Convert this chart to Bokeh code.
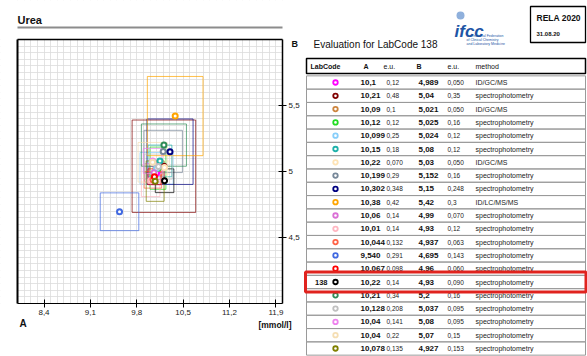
from bokeh.plotting import figure
from bokeh.layouts import row
from bokeh.models import (Range1d, FixedTicker, SingleIntervalTicker, ColumnDataSource,
                          LinearAxis, Label, BoxAnnotation)
from bokeh.core.properties import value
from bokeh.embed import file_html
from bokeh.resources import INLINE

# ---------------- data ----------------
lab_codes = ["", "", "", "", "", "", "", "", "", "", "", "", "", "", "", "138", "", "", "", "", ""]
a_vals = [10.1, 10.21, 10.09, 10.12, 10.099, 10.15, 10.22, 10.199, 10.302, 10.38, 10.06,
          10.01, 10.044, 9.540, 10.067, 10.22, 10.21, 10.128, 10.04, 10.04, 10.078]
a_labels = ["10,1", "10,21", "10,09", "10,12", "10,099", "10,15", "10,22", "10,199", "10,302", "10,38", "10,06",
            "10,01", "10,044", "9,540", "10,067", "10,22", "10,21", "10,128", "10,04", "10,04", "10,078"]
a_eu = [0.12, 0.48, 0.1, 0.12, 0.25, 0.18, 0.070, 0.29, 0.348, 0.42, 0.14,
        0.14, 0.132, 0.291, 0.098, 0.14, 0.34, 0.208, 0.141, 0.22, 0.135]
a_eu_labels = ["0,12", "0,48", "0,1", "0,12", "0,25", "0,18", "0,070", "0,29", "0,348", "0,42", "0,14",
               "0,14", "0,132", "0,291", "0,098", "0,14", "0,34", "0,208", "0,141", "0,22", "0,135"]
b_vals = [4.989, 5.04, 5.021, 5.025, 5.024, 5.08, 5.03, 5.152, 5.15, 5.42, 4.99,
          4.93, 4.937, 4.695, 4.96, 4.93, 5.2, 5.037, 5.08, 5.07, 4.927]
b_labels = ["4,989", "5,04", "5,021", "5,025", "5,024", "5,08", "5,03", "5,152", "5,15", "5,42", "4,99",
            "4,93", "4,937", "4,695", "4,96", "4,93", "5,2", "5,037", "5,08", "5,07", "4,927"]
b_eu = [0.050, 0.35, 0.050, 0.16, 0.12, 0.12, 0.050, 0.16, 0.248, 0.3, 0.070,
        0.12, 0.063, 0.143, 0.060, 0.090, 0.16, 0.095, 0.095, 0.15, 0.153]
b_eu_labels = ["0,050", "0,35", "0,050", "0,16", "0,12", "0,12", "0,050", "0,16", "0,248", "0,3", "0,070",
               "0,12", "0,063", "0,143", "0,060", "0,090", "0,16", "0,095", "0,095", "0,15", "0,153"]
methods = ["ID/GC/MS", "spectrophotometry", "ID/GC/MS", "spectrophotometry", "spectrophotometry",
           "spectrophotometry", "ID/GC/MS", "spectrophotometry", "spectrophotometry", "ID/LC/MS/MS",
           "spectrophotometry", "spectrophotometry", "spectrophotometry", "spectrophotometry",
           "spectrophotometry", "spectrophotometry", "spectrophotometry", "spectrophotometry",
           "spectrophotometry", "spectrophotometry", "spectrophotometry"]
colors = ["#ff00ff", "#800000", "#cd853f", "#22dd22", "#87cefa", "#20b2aa", "#ffe4b5", "#778899",
          "#000080", "#ffa500", "#da70d6", "#ffb6c1", "#ff6347", "#4169e1", "#ff0000", "#000000",
          "#2e8b57", "#c0c0c0", "#ee82ee", "#f5deb3", "#808000"]

x_ticks = [8.4, 9.1, 9.8, 10.5, 11.2, 11.9]
x_tick_labels = ["8,4", "9,1", "9,8", "10,5", "11,2", "11,9"]
y_ticks = [4.5, 5.0, 5.5]
y_tick_labels = ["4,5", "5", "5,5"]

FONT = "Liberation Sans"

# ---------------- left: plot ----------------
W1, H = 302, 356
FL, FR, FT, FB = 17, 282, 39, 303          # pixel box of the data area
X0, X1, Y0, Y1 = 8.0, 12.0, 4.0, 6.0


def dx(px):
    return X0 + (px - FL) * (X1 - X0) / (FR - FL)


def dy(py):
    return Y1 - (py - FT) * (Y1 - Y0) / (FB - FT)


# the frame covers the whole left canvas so that texts outside the data box stay visible
p = figure(width=W1, height=H, x_range=Range1d(dx(0), dx(W1)), y_range=Range1d(dy(H), dy(0)),
           output_backend="svg", toolbar_location=None, x_axis_location=None, y_axis_location=None,
           min_border=0)
p.outline_line_color = None
p.background_fill_color = "white"
p.border_fill_color = "white"

p.xgrid.ticker = SingleIntervalTicker(interval=0.1, num_minor_ticks=0)
p.ygrid.ticker = SingleIntervalTicker(interval=0.05, num_minor_ticks=0)
p.xgrid.bounds = (X0, X1)
p.ygrid.bounds = (Y0, Y1)
p.grid.grid_line_color = "#dcdcdc"
p.grid.grid_line_width = 0.8
# mask grid outside the data box
for kw in (dict(right=X0), dict(left=X1), dict(top=Y0), dict(bottom=Y1)):
    p.add_layout(BoxAnnotation(fill_color="white", fill_alpha=1, line_color=None,
                               level="underlay", **kw))


def axis(loc, fixed, bounds, ticks=None, labels=None, tick_in=0, tick_out=0, color="black",
         width=1.0, size="8px", standoff=2):
    ax = LinearAxis(fixed_location=fixed, bounds=bounds,
                    ticker=FixedTicker(ticks=ticks or []),
                    major_label_overrides=dict(zip(ticks or [], labels or [])),
                    axis_line_color=color, axis_line_width=width,
                    major_tick_line_color="black", major_tick_in=tick_in, major_tick_out=tick_out,
                    minor_tick_line_color=None, minor_tick_in=0, minor_tick_out=0,
                    major_label_standoff=standoff, major_label_text_font=FONT,
                    major_label_text_font_size=size, major_label_text_color="#222222")
    p.add_layout(ax, loc)
    return ax


axis("below", Y0, (X0, X1), x_ticks, x_tick_labels, 4, 4, width=1.2)
axis("right", X1, (Y0, Y1), y_ticks, y_tick_labels, 4, 4, width=1.5)
axis("above", Y1, (X0, X1), width=1.5)
axis("left", X0, (Y0, Y1), width=2)
axis("above", dy(27), (X0, X1), color="#8c8c8c", width=2)   # grey rule under the title

src = ColumnDataSource(dict(
    a=a_vals, b=b_vals,
    left=[a - e for a, e in zip(a_vals, a_eu)], right=[a + e for a, e in zip(a_vals, a_eu)],
    bottom=[b - e for b, e in zip(b_vals, b_eu)], top=[b + e for b, e in zip(b_vals, b_eu)],
    color=colors))
p.quad(left="left", right="right", bottom="bottom", top="top", source=src,
       fill_alpha=0, line_color="color", line_width=1, line_alpha=0.7)
p.scatter("a", "b", source=src, size=5, fill_color="white", line_color="color", line_width=2)


def label(px, py, text, size, align="left"):
    p.add_layout(Label(x=dx(px), y=dy(py), text=text, text_font=FONT, text_font_style="bold",
                       text_font_size=size, text_baseline="middle", text_align=align,
                       text_color="#111111"))


label(17, 19, "Urea", "11px")
label(291, 43, "B", "9px")
label(19, 323, "A", "10px")
label(291, 324, "[mmol/l]", "8.5px", "right")

# ---------------- right: table ----------------
TX0 = W1
W2 = 587 - W1
t = figure(width=W2, height=H, x_range=Range1d(TX0, 587), y_range=Range1d(H, 0),
           output_backend="svg", toolbar_location=None, min_border=0)
t.axis.visible = False
t.grid.visible = False
t.outline_line_color = None
t.background_fill_color = "white"
t.border_fill_color = "white"

n = len(a_vals)
ROW0, PITCH = 82.0, 13.3
yc = [ROW0 + PITCH * i for i in range(n)]
tsrc = ColumnDataSource(dict(
    y=yc, top=[y - PITCH / 2 for y in yc], bottom=[y + PITCH / 2 for y in yc],
    code=lab_codes, a=a_labels, ea=a_eu_labels, b=b_labels, eb=b_eu_labels,
    method=methods, color=colors))

t.quad(left=306, right=585, top="top", bottom="bottom", source=tsrc,
       fill_alpha=0, line_color="#9a9a9a", line_width=1)
t.quad(left=[306], right=[585], top=[58], bottom=[73], fill_alpha=0, line_color="black", line_width=1.5)
hdr_x = [310, 363, 383, 416, 447, 475]
hdr_txt = ["LabCode", "A", "e.u.", "B", "e.u.", "method"]
hdr_bold = ["bold", "bold", "normal", "bold", "normal", "normal"]
for hx, ht, hb in zip(hdr_x, hdr_txt, hdr_bold):
    t.text(x=[hx], y=[65.5], text=[ht], text_font=value(FONT), text_font_style=hb,
           text_font_size="7px", text_baseline="middle", text_color="#111111")

t.scatter(x=335, y="y", source=tsrc, size=4.5, fill_color="white", line_color="color", line_width=1.8)
t.text(x=327, y="y", text="code", source=tsrc, text_font=value(FONT), text_font_style="bold",
       text_font_size="7.5px", text_baseline="middle", text_align="right", text_color="#111111")
t.text(x=360, y="y", text="a", source=tsrc, text_font=value(FONT), text_font_style="bold",
       text_font_size="8px", text_baseline="middle", text_color="#111111")
t.text(x=386, y="y", text="ea", source=tsrc, text_font=value(FONT),
       text_font_size="6.5px", text_baseline="middle", text_color="#222222")
t.text(x=418, y="y", text="b", source=tsrc, text_font=value(FONT), text_font_style="bold",
       text_font_size="8px", text_baseline="middle", text_color="#111111")
t.text(x=447, y="y", text="eb", source=tsrc, text_font=value(FONT),
       text_font_size="6.5px", text_baseline="middle", text_color="#222222")
t.text(x=475, y="y", text="method", source=tsrc, text_font=value(FONT),
       text_font_size="7px", text_baseline="middle", text_color="#222222")

hi = lab_codes.index("138")
t.quad(left=[305], right=[585.5], top=[yc[hi] - 10], bottom=[yc[hi] + 10], fill_alpha=0,
       line_color="#e0231e", line_width=3)

t.text(x=[313], y=[44], text=["Evaluation for LabCode 138"], text_font=value(FONT),
       text_font_size="10px", text_baseline="middle", text_color="#111111")
t.scatter(x=[460], y=[15], size=8, fill_color="#8fb0dc", line_color=None)
t.text(x=[454], y=[31], text=["ifcc"], text_font=value(FONT), text_font_style="bold italic",
       text_font_size="17px", text_baseline="alphabetic", text_color="#1d55a5")
t.text(x=[466, 466, 466], y=[35, 39, 43],
       text=["International Federation", "of Clinical Chemistry", "and Laboratory Medicine"],
       text_font=value(FONT), text_font_size="3.5px", text_baseline="middle", text_color="#1d55a5")
t.quad(left=[530], right=[585], top=[6], bottom=[42], fill_alpha=0, line_color="black", line_width=1.3)
t.text(x=[536], y=[17], text=["RELA 2020"], text_font=value(FONT), text_font_style="bold",
       text_font_size="8.5px", text_baseline="middle", text_color="#111111")
t.text(x=[536], y=[33], text=["31.08.20"], text_font=value(FONT), text_font_style="bold",
       text_font_size="6px", text_baseline="middle", text_color="#111111")

layout = row(p, t)
open("out.html", "w").write(file_html(layout, INLINE))
